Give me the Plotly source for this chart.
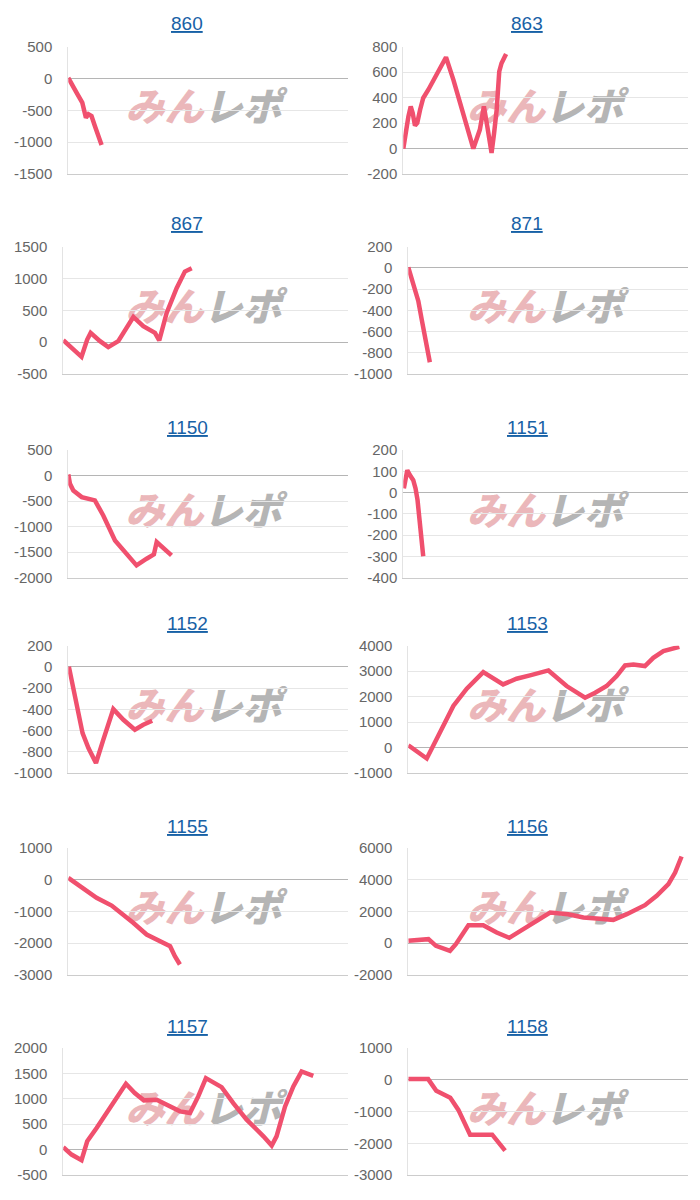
import plotly.graph_objects as go

# ---------------- data ----------------
titles = ["860", "863", "867", "871", "1150", "1151",
          "1152", "1153", "1155", "1156", "1157", "1158"]

# x = position along the (fixed) x range 0..100, y = value
x_860 = [0, 1.5, 3.2, 5, 5.7, 6.3, 7.2, 8.3, 9.5, 10.7, 11.9]
y_860 = [10, -120, -240, -380, -485, -615, -560, -590, -745, -900, -1045]

x_863 = [0, 0.9, 1.8, 2.6, 3.3, 4.1, 4.9, 5.9, 7.0, 8.8, 11.1, 15.0, 17.6, 21.1,
         24.6, 26.9, 28.3, 29.5, 31.0, 31.9, 32.8, 33.7, 34.5, 36.1]
y_863 = [0, 149, 253, 331, 279, 180, 201, 305, 397, 462, 553, 717, 540, 279,
         0, 149, 331, 175, -34, 123, 305, 605, 670, 743]

x_867 = [0, 2.9, 6.4, 8.4, 9.6, 12.9, 15.8, 19.3, 21.7, 24.6, 28.1, 32.2, 33.7,
         36.3, 39.8, 42.7, 45.1]
y_867 = [31, -89, -230, 42, 146, 16, -78, 16, 198, 396, 250, 146, 26,
         458, 849, 1109, 1161]

x_871 = [0, 1.2, 2.7, 3.6, 4.8, 6.3, 7.7]
y_871 = [6, -110, -236, -314, -487, -691, -889]

x_1150 = [0, 0.6, 1.8, 4.8, 9.5, 12.5, 16.7, 20.3, 24.4, 28.0, 30.6, 31.6, 33.4, 36.9]
y_1150 = [20, -163, -294, -424, -489, -783, -1273, -1501, -1762, -1632, -1547,
          -1305, -1403, -1566]

x_1151 = [0.2, 0.9, 1.4, 2.3, 3.5, 4.3, 5.0, 5.6, 6.2, 7.0]
y_1151 = [19, 74, 105, 82, 58, 19, -36, -115, -193, -300]

x_1152 = [0.2, 3.0, 5.1, 7.2, 9.9, 12.5, 16.1, 19.7, 23.8, 26.8, 30.0]
y_1152 = [3, -373, -624, -765, -906, -687, -398, -498, -592, -545, -508]

x_1153 = [0, 6.6, 11.3, 16.1, 20.9, 26.8, 33.9, 38.7, 43.5, 50.1, 56.6, 63.2,
          66.8, 70.9, 74.5, 77.5, 80.5, 84.6, 87.6, 91.2, 96.9]
y_1153 = [91, -431, 587, 1632, 2311, 2963, 2480, 2702, 2833, 3029, 2415, 1958,
          2154, 2415, 2807, 3225, 3264, 3199, 3525, 3786, 3956]

x_1155 = [0, 4.2, 10.1, 15.5, 19.7, 23.2, 28.0, 32.8, 36.4, 38.1, 39.9]
y_1155 = [52, -209, -576, -817, -1099, -1361, -1728, -1937, -2094, -2408, -2670]

x_1156 = [0, 3.0, 6.0, 7.2, 9.9, 12.5, 14.9, 17.0, 19.7, 21.5, 26.8, 31.6, 36.1,
          41.1, 45.9, 50.7, 57.2, 62.6, 67.3, 73.3, 78.1, 84.6, 88.8, 93.0,
          95.4, 97.7]
y_1156 = [147, 209, 209, 251, -168, -314, -482, -63, 670, 1131, 1131, 670, 335,
          880, 1403, 1927, 1822, 1613, 1550, 1466, 1822, 2387, 2974, 3707,
          4440, 5445]

x_1157 = [0, 2.9, 6.4, 8.4, 11.7, 16.4, 22.0, 25.1, 28.3, 32.8, 36.3, 41.0,
          44.5, 47.4, 50.1, 55.6, 59.7, 64.4, 70.3, 73.2, 74.9, 77.9, 80.8,
          83.7, 87.8]
y_1157 = [46, -98, -209, 164, 425, 818, 1296, 1113, 969, 982, 884, 753, 720,
          1047, 1407, 1230, 916, 589, 262, 79, 262, 851, 1243, 1538, 1453]

x_1158 = [0, 3.6, 7.1, 10, 15, 17.9, 22.1, 25.7, 30, 34.6]
y_1158 = [20, 20, 20, -350, -570, -950, -1730, -1730, -1730, -2230]

ticks_860 = [-1500, -1000, -500, 0, 500]
ticks_863 = [-200, 0, 200, 400, 600, 800]
ticks_867 = [-500, 0, 500, 1000, 1500]
ticks_871 = [-1000, -800, -600, -400, -200, 0, 200]
ticks_1150 = [-2000, -1500, -1000, -500, 0, 500]
ticks_1151 = [-400, -300, -200, -100, 0, 100, 200]
ticks_1152 = [-1000, -800, -600, -400, -200, 0, 200]
ticks_1153 = [-1000, 0, 1000, 2000, 3000, 4000]
ticks_1155 = [-3000, -2000, -1000, 0, 1000]
ticks_1156 = [-2000, 0, 2000, 4000, 6000]
ticks_1157 = [-500, 0, 500, 1000, 1500, 2000]
ticks_1158 = [-3000, -2000, -1000, 0, 1000]

xs_list = [x_860, x_863, x_867, x_871, x_1150, x_1151,
           x_1152, x_1153, x_1155, x_1156, x_1157, x_1158]
ys_list = [y_860, y_863, y_867, y_871, y_1150, y_1151,
           y_1152, y_1153, y_1155, y_1156, y_1157, y_1158]
tick_list = [ticks_860, ticks_863, ticks_867, ticks_871, ticks_1150, ticks_1151,
             ticks_1152, ticks_1153, ticks_1155, ticks_1156, ticks_1157, ticks_1158]

# ---------------- layout (pixels) ----------------
W, H = 700, 1200
rows_top = [46.7, 246.7, 450, 645.7, 847.7, 1048]
rows_bottom = [174, 374, 577.5, 773, 975, 1175]
title_y = [23.7, 223.7, 427, 623, 826, 1026]
title_x = [187, 527]
right_edge = [348, 688]
axis_left = [68.3, 403.3, 63.3, 408.3, 68.3, 403.3,
             68.3, 408.3, 68.3, 408.3, 63.3, 408.3]
label_gap = [14, 4, 14, 14, 14, 4, 14, 14, 14, 14, 14, 14]
logo_cx = [203.5, 545]

LINE = "#f0506e"
FONT = "Liberation Sans, Arial, sans-serif"

fig = go.Figure()
layout = {}
shapes = []
annotations = []

for i, (t, xs, ys, tk) in enumerate(zip(titles, xs_list, ys_list, tick_list)):
    n = "" if i == 0 else str(i + 1)
    r, c = divmod(i, 2)
    fig.add_trace(go.Scatter(
        x=xs, y=ys, mode="lines",
        line=dict(color=LINE, width=4.5),
        xaxis="x" + n, yaxis="y" + n,
        hoverinfo="skip", showlegend=False,
    ))
    layout["xaxis" + n] = dict(
        domain=[axis_left[i] / W, right_edge[c] / W], anchor="y" + n,
        range=[0, 100], showgrid=False, zeroline=False,
        showticklabels=False, ticks="", showline=True,
        linecolor="#cccccc", linewidth=1, fixedrange=True,
        automargin=False,
    )
    layout["yaxis" + n] = dict(
        domain=[1 - rows_bottom[r] / H, 1 - rows_top[r] / H], anchor="x" + n,
        range=[min(tk), max(tk)], tickmode="array", tickvals=tk,
        ticktext=[str(v) for v in tk],
        showgrid=True, gridcolor="#e6e6e6", gridwidth=1,
        zeroline=True, zerolinecolor="#b5b5b5", zerolinewidth=1,
        showline=True, linecolor="#e3e3e3", linewidth=1,
        ticks="", ticklabelstandoff=max(label_gap[i] - 2, 0),
        tickfont=dict(family=FONT, size=15, color="#666666"),
        fixedrange=True, automargin=False,
    )
    annotations.append(dict(
        xref="paper", yref="paper",
        x=title_x[c] / W, y=1 - title_y[r] / H,
        xanchor="center", yanchor="middle", showarrow=False,
        text="<u>" + t + "</u>",
        font=dict(family=FONT, size=19, color="#1761a6"),
    ))
    shapes.append(dict(
        type="rect", xref="paper", yref="y" + n + " domain",
        x0=(logo_cx[c] - 90) / W, x1=(logo_cx[c] + 90) / W,
        y0=0.3, y1=0.7, line=dict(width=0),
        fillcolor="rgba(0,0,0,0)", layer="below",
        label=dict(
            text="<i><span style='color:#ebb7ba;font-weight:900'>みん</span>"
                 "<span style='color:#b5b5b5;font-weight:900'>レポ</span></i>",
            font=dict(family="Noto Sans CJK JP", size=39, color="#b5b5b5"),
            textposition="middle center",
        ),
    ))

fig.update_layout(
    width=W, height=H, autosize=False,
    margin=dict(l=0, r=0, t=0, b=0, pad=0, autoexpand=False),
    paper_bgcolor="white", plot_bgcolor="rgba(0,0,0,0)",
    showlegend=False,
    annotations=annotations, shapes=shapes,
    **layout,
)

fig.write_html(
    "out.html",
    config={"displayModeBar": False},
    post_script=(
        "document.body.style.margin='0px';"
        "document.body.style.overflow='hidden';"
    ),
)
